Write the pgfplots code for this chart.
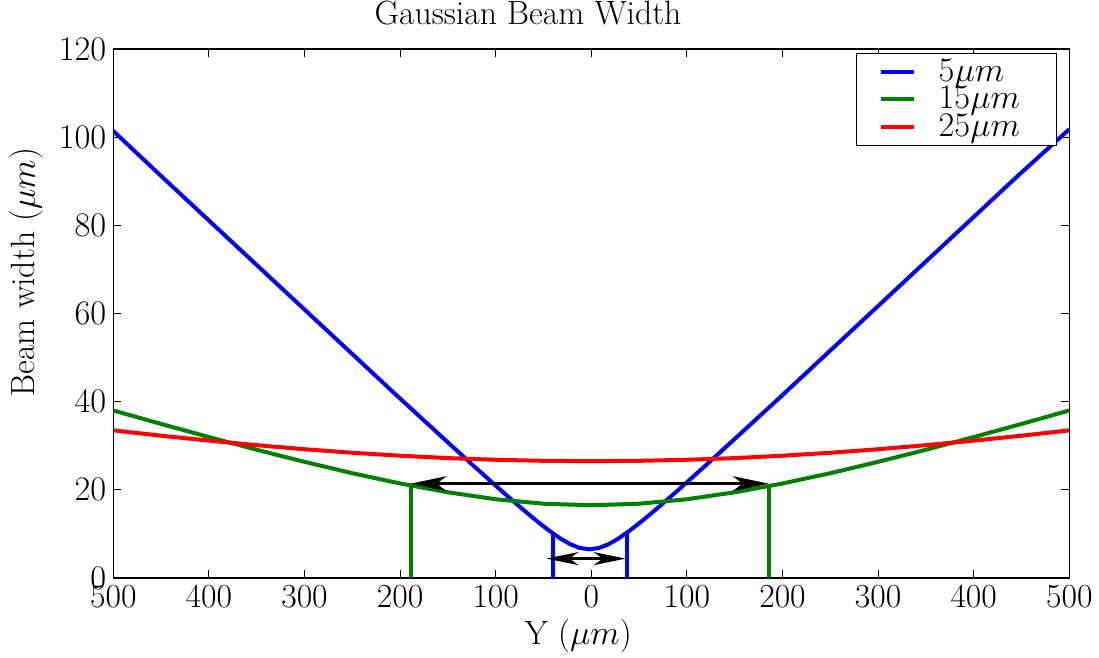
\documentclass[border=0pt]{standalone}
\usepackage{pgfplots}
\pgfplotsset{compat=1.18}
\usetikzlibrary{arrows.meta}
\definecolor{mplgreen}{rgb}{0,0.5,0}
\newcommand{\chartfont}{\fontsize{16.9pt}{20pt}\selectfont}
\begin{document}
\begin{tikzpicture}
\begin{axis}[
  scale only axis,
  width=478bp, height=264.5bp,
  xmin=-500, xmax=500, ymin=0, ymax=120,
  xtick={-500,-400,...,500},
  xticklabels={500,400,300,200,100,0,100,200,300,400,500},
  ytick={0,20,...,120},
  tick align=inside,
  major tick length=4bp,
  tick style={black, line width=0.5bp},
  axis line style={black, line width=0.75bp},
  tick label style={font=\chartfont},
  label style={font=\chartfont},
  title style={font=\chartfont, at={(axis description cs:0.2730,1.0454)}, anchor=base west, inner sep=0pt, yshift=-6pt},
  xlabel style={at={(axis description cs:0.4299,-0.1263)}, anchor=base west, inner sep=0pt},
  ylabel style={at={(axis description cs:-0.0820,0.3429)}, anchor=base west, inner sep=0pt},
  title={Gaussian Beam Width},
  xlabel={Y ($\mu m$)},
  ylabel={Beam width ($\mu m$)},
  legend style={at={(1,1)}, anchor=north east, xshift=-6bp, yshift=-1.85bp,
    draw=black, line width=0.6bp, font=\chartfont,
    inner xsep=11bp, inner ysep=3bp, nodes={inner sep=0pt},
    column sep=11.6bp, row sep=1.1bp},
  legend cell align=left,
  legend image code/.code={\draw[#1, line width=2bp] (0bp,0bp) -- (16.5bp,0bp);},
]
\addplot[blue, line width=2bp] coordinates {
(-502,101.8) (-452,91.6) (-402,81.5) (-352,71.4) (-302,61.3) (-252,51.2) (-202,41.1)
(-152,31.15) (-122,25.23) (-102,21.33) (-92,19.40) (-82,17.50) (-72,15.64) (-62,13.81)
(-52,12.06) (-42,10.41) (-32,8.91) (-22,7.66) (-12,6.81) (-2,6.5)
(8,6.81) (18,7.66) (28,8.91) (38,10.41) (48,12.06) (58,13.81) (68,15.64) (78,17.50)
(88,19.40) (98,21.33) (118,25.23) (148,31.15) (198,41.1) (248,51.2) (298,61.3)
(348,71.4) (398,81.5) (448,91.6) (500,101.8)};
\addlegendentry{\makebox[48bp][l]{$5\mu m$}}
\addplot[mplgreen, line width=2bp] coordinates {
(-500,38.0) (-450,34.95) (-400,31.97) (-350,29.09) (-300,26.35) (-250,23.77) (-200,21.44)
(-150,19.44) (-100,17.86) (-50,16.85) (0,16.5) (50,16.85) (100,17.86) (150,19.44)
(200,21.44) (250,23.77) (300,26.35) (350,29.09) (400,31.97) (450,34.95) (500,38.0)};
\addlegendentry{\makebox[48bp][l]{$15\mu m$}}
\addplot[red, line width=2bp] coordinates {
(-500,33.49) (-450,32.28) (-400,31.16) (-350,30.13) (-300,29.21) (-250,28.41) (-200,27.74)
(-150,27.20) (-100,26.82) (-50,26.58) (0,26.5) (50,26.58) (100,26.82) (150,27.20)
(200,27.74) (250,28.41) (300,29.21) (350,30.13) (400,31.16) (450,32.28) (500,33.49)};
\addlegendentry{\makebox[48bp][l]{$25\mu m$}}
\addplot[blue, line width=2bp, forget plot] coordinates {(-40,0) (-40,10.5)};
\addplot[blue, line width=2bp, forget plot] coordinates {(37,0) (37,10.5)};
\addplot[mplgreen, line width=2bp, forget plot] coordinates {(-189,0) (-189,20.95)};
\addplot[mplgreen, line width=2bp, forget plot] coordinates {(185.5,0) (185.5,20.8)};
\addplot[black, line width=1.2bp, forget plot,
  {Stealth[length=18bp, width=7.5bp, inset=5bp]}-{Stealth[length=18bp, width=7.5bp, inset=5bp]}]
  coordinates {(-189,21.4) (185.5,21.4)};
\addplot[black, line width=1.2bp, forget plot,
  {Stealth[length=16bp, width=6.5bp, inset=4.5bp]}-{Stealth[length=16bp, width=6.5bp, inset=4.5bp]}]
  coordinates {(-47,4.4) (36,4.4)};
\end{axis}
\pgfresetboundingbox
\path[use as bounding box] ([shift={(-56.65bp,-39.85bp)}]current axis.south west)
  rectangle ([shift={(14.85bp,24.5bp)}]current axis.north east);
\end{tikzpicture}
\end{document}
